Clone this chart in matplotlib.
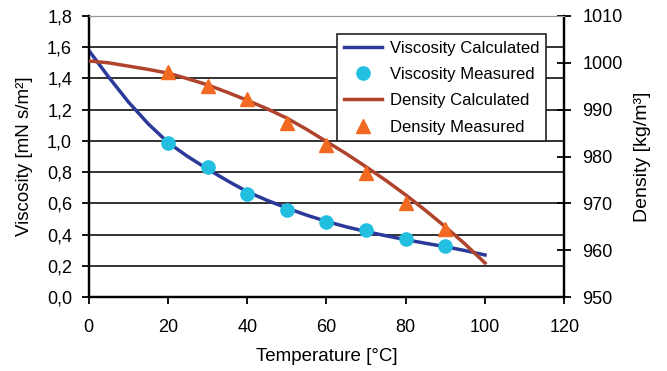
import matplotlib
matplotlib.use("Agg")
import matplotlib.pyplot as plt
from matplotlib.ticker import FuncFormatter

plt.rcParams['font.family'] = ['Liberation Sans', 'DejaVu Sans']

# calculated curves (every 5 degC)
temp_calc = [0, 5, 10, 15, 20, 25, 30, 35, 40, 45, 50, 55, 60, 65, 70, 75, 80, 85, 90, 95, 100]
visc_calc = [1.58, 1.41, 1.25, 1.11, 0.99, 0.90, 0.82, 0.745, 0.675, 0.62, 0.57, 0.525, 0.485,
             0.45, 0.42, 0.393, 0.368, 0.345, 0.323, 0.298, 0.27]
dens_calc = [1000.4, 1000.0, 999.3, 998.6, 997.8, 996.6, 995.3, 993.7, 992.0, 990.2, 988.2,
             985.8, 983.2, 980.6, 977.8, 974.9, 971.8, 968.5, 965.0, 961.3, 957.3]

# measurements
temp_meas = [20, 30, 40, 50, 60, 70, 80, 90]
visc_meas = [0.99, 0.83, 0.66, 0.56, 0.48, 0.43, 0.37, 0.33]
dens_meas = [998.0, 995.1, 992.2, 987.1, 982.4, 976.4, 970.1, 964.5]

fig = plt.figure(figsize=(6.67, 3.71), dpi=100)
ax = fig.add_axes([0.133, 0.199, 0.713, 0.758])
ax2 = ax.twinx()

l1, = ax.plot(temp_calc, visc_calc, color='#2b3a9a', lw=2.5, label='Viscosity Calculated', zorder=3)
l2, = ax.plot(temp_meas, visc_meas, 'o', color='#22bfe0', ms=9.5, label='Viscosity Measured', zorder=4)
l3, = ax2.plot(temp_calc, dens_calc, color='#b0432c', lw=2.5, label='Density Calculated', zorder=3)
l4, = ax2.plot(temp_meas, dens_meas, '^', color='#f26a21', ms=10, label='Density Measured', zorder=4)

ax.set_xlim(0, 120)
ax.set_ylim(0, 1.8)
ax2.set_ylim(950, 1010)
ax.set_xticks(range(0, 121, 20))
ax.set_yticks([i * 0.2 for i in range(10)])
ax2.set_yticks(range(950, 1011, 10))
ax.yaxis.set_major_formatter(FuncFormatter(lambda v, p: f"{v:.1f}".replace('.', ',')))

for y in [i * 0.2 for i in range(1, 9)]:
    ax.axhline(y, color='#222222', lw=1.3, zorder=1)

for a in (ax, ax2):
    a.spines['top'].set_color('#999999')
    a.spines['left'].set_linewidth(1.6)
    a.spines['right'].set_linewidth(1.6)
    a.spines['bottom'].set_linewidth(1.6)
ax.tick_params(axis='y', direction='out', length=5, width=1.3, labelsize=13, pad=7)
ax.tick_params(axis='x', direction='out', length=5, width=1.3, labelsize=13, pad=11)
ax2.tick_params(axis='y', direction='inout', length=10, width=1.3, labelsize=13, pad=8)

ax.set_xlabel('Temperature [°C]', fontsize=13.5, labelpad=8)
ax.set_ylabel('Viscosity [mN s/m²]', fontsize=13.5, labelpad=10)
ax2.set_ylabel('Density [kg/m³]', fontsize=14, labelpad=8)

leg = ax2.legend(handles=[l1, l2, l3, l4], loc='upper left', bbox_to_anchor=(0.522, 0.936),
                 fontsize=12, frameon=True, fancybox=False, framealpha=1, borderaxespad=0,
                 edgecolor='#222222', handlelength=2.3, handletextpad=0.5,
                 borderpad=0.4, labelspacing=0.68)
leg.get_frame().set_linewidth(1.2)

fig.savefig('out.png', dpi=100)
